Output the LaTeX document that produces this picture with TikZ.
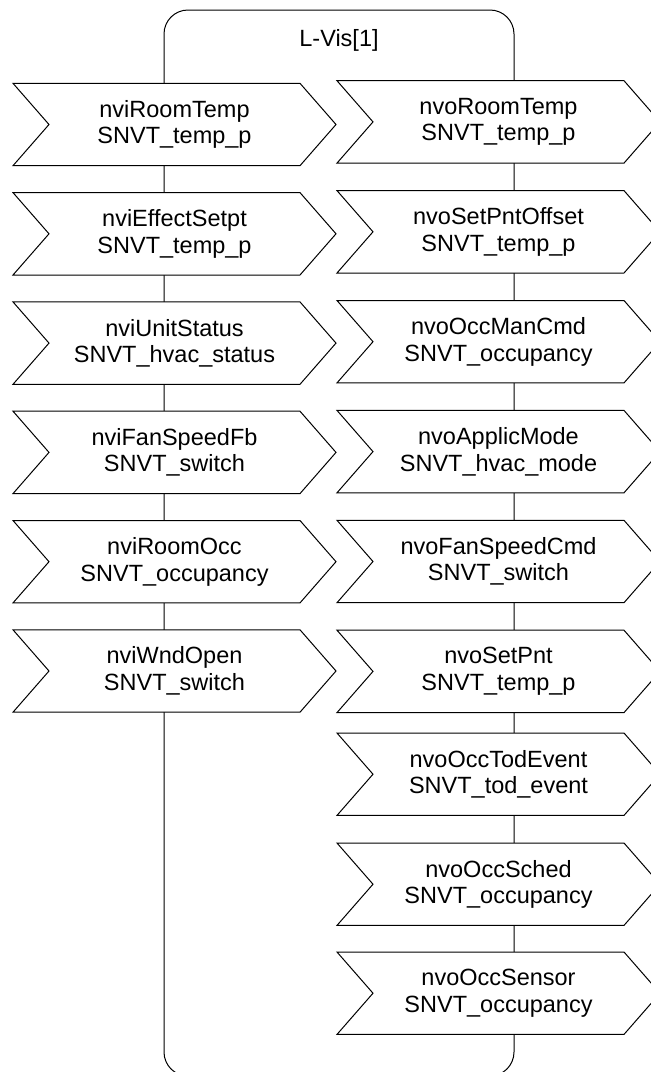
\documentclass[tikz,border=0pt]{standalone}
\usepackage{fontspec}
\setmainfont{Liberation Sans}
\usetikzlibrary{calc}
\pgfdeclarelayer{bg}
\pgfsetlayers{bg,main}
\begin{document}
\begin{tikzpicture}[x=1pt,y=-1pt,
  lbl/.style={minimum width=323pt, minimum height=82.4pt, inner sep=0pt, outer sep=0pt, align=center, font=\fontsize{23.5}{26.5}\selectfont},
  chev/.style={draw=black, line width=1pt, fill=white, line join=miter},
  devframe/.style={draw=black, line width=1pt, rounded corners=24pt, minimum width=350pt, minimum height=1066pt, inner sep=0pt, outer sep=0pt},
  title/.style={font=\fontsize{23.5}{26.5}\selectfont, anchor=base}]
\useasboundingbox (0,0) rectangle (651,1072);
\clip (0,0) rectangle (651,1072);
% inputs (left column)
\node[lbl] (i1) at (174.5,124.5) {nviRoomTemp\\SNVT\_temp\_p};
\node[lbl] (i2) at (174.5,233.8) {nviEffectSetpt\\SNVT\_temp\_p};
\node[lbl] (i3) at (174.5,343.1) {nviUnitStatus\\SNVT\_hvac\_status};
\node[lbl] (i4) at (174.5,452.4) {nviFanSpeedFb\\SNVT\_switch};
\node[lbl] (i5) at (174.5,561.7) {nviRoomOcc\\SNVT\_occupancy};
\node[lbl] (i6) at (174.5,671.0) {nviWndOpen\\SNVT\_switch};
% outputs (right column)
\node[lbl] (o1) at (498.5,121.9) {nvoRoomTemp\\SNVT\_temp\_p};
\node[lbl] (o2) at (498.5,231.8) {nvoSetPntOffset\\SNVT\_temp\_p};
\node[lbl] (o3) at (498.5,341.7) {nvoOccManCmd\\SNVT\_occupancy};
\node[lbl] (o4) at (498.5,451.6) {nvoApplicMode\\SNVT\_hvac\_mode};
\node[lbl] (o5) at (498.5,561.5) {nvoFanSpeedCmd\\SNVT\_switch};
\node[lbl] (o6) at (498.5,671.4) {nvoSetPnt\\SNVT\_temp\_p};
\node[lbl] (o7) at (498.5,774.2) {nvoOccTodEvent\\SNVT\_tod\_event};
\node[lbl] (o8) at (498.5,884.2) {nvoOccSched\\SNVT\_occupancy};
\node[lbl] (o9) at (498.5,993.2) {nvoOccSensor\\SNVT\_occupancy};
\begin{pgfonlayer}{bg}
  \node[devframe] (dev) at (339,543) {};
  \foreach \n in {i1,i2,i3,i4,i5,i6,o1,o2,o3,o4,o5,o6,o7,o8,o9}{
    \draw[chev] (\n.north west) -- ($(\n.north east)+(-36,0)$) -- (\n.east)
      -- ($(\n.south east)+(-36,0)$) -- (\n.south west) -- ($(\n.west)+(36,0)$) -- cycle;
  }
\end{pgfonlayer}
\node[title] (lvis) at (339,46) {L-Vis[1]};
\end{tikzpicture}
\end{document}
